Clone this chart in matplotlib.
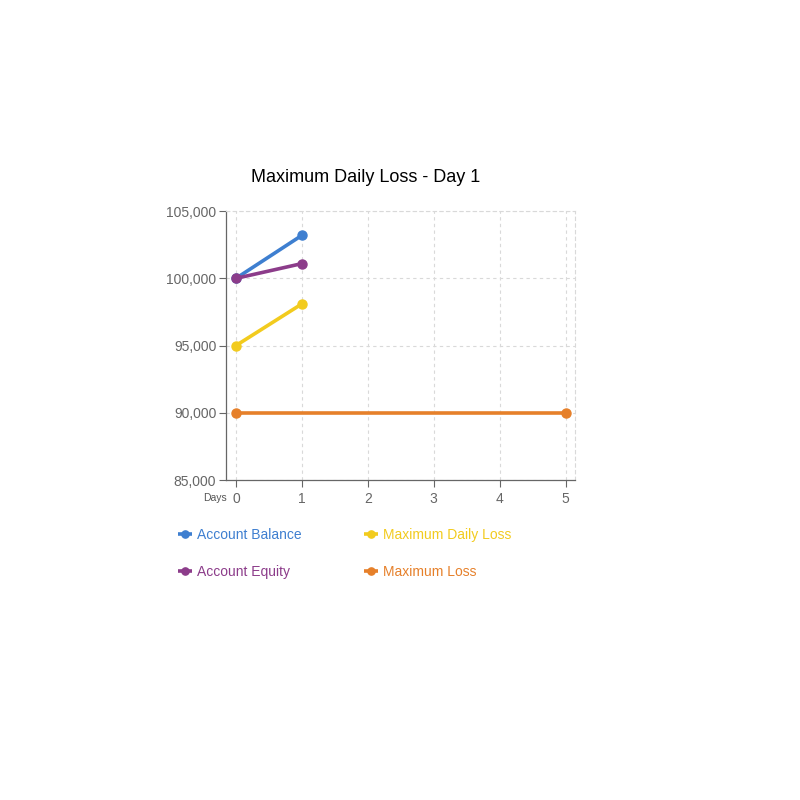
import matplotlib
matplotlib.use("Agg")
import matplotlib.pyplot as plt
from matplotlib.ticker import FuncFormatter

plt.rcParams['font.family'] = ['Liberation Sans', 'DejaVu Sans']

days_balance = [0, 1]
account_balance = [100000, 103200]
days_equity = [0, 1]
account_equity = [100000, 101100]
days_daily = [0, 1]
max_daily_loss = [95000, 98100]
days_maxloss = [0, 5]
max_loss = [90000, 90000]
x_ticks = [0, 1, 2, 3, 4, 5]
y_ticks = [85000, 90000, 95000, 100000, 105000]

colors = {
    'Account Balance': '#3E7FD0',
    'Account Equity': '#8C3C8A',
    'Maximum Daily Loss': '#F2CB1E',
    'Maximum Loss': '#E6802A',
}

fig = plt.figure(figsize=(8, 8), dpi=100)
ax = fig.add_axes([0.2825, 0.4, 0.436, 0.336])

series = [
    ('Account Balance', days_balance, account_balance),
    ('Account Equity', days_equity, account_equity),
    ('Maximum Daily Loss', days_daily, max_daily_loss),
    ('Maximum Loss', days_maxloss, max_loss),
]
handles = []
for name, xs, ys in series:
    h, = ax.plot(xs, ys, color=colors[name], lw=2.6, marker='o', ms=6.5,
                 label=name, zorder=3, solid_capstyle='butt')
    handles.append(h)

ax.set_xlim(-0.15, 5.14)
ax.set_ylim(85000, 105000)
ax.set_xticks(x_ticks)
ax.set_yticks(y_ticks)
ax.yaxis.set_major_formatter(FuncFormatter(lambda v, p: f"{int(v):,}"))
ax.grid(True, color='#d9d9d9', linestyle=(0, (3, 3)), linewidth=0.8, zorder=0)
ax.tick_params(axis='both', colors='#666666', labelsize=10, length=5, width=0.8)
ax.tick_params(axis='y', pad=2)
ax.tick_params(axis='x', pad=3.5)
for s in ['top', 'right']:
    ax.spines[s].set_color('#d9d9d9')
    ax.spines[s].set_linestyle((0, (3, 3)))
    ax.spines[s].set_linewidth(0.8)
for s in ['left', 'bottom']:
    ax.spines[s].set_color('#666666')
    ax.spines[s].set_linewidth(0.9)

fig.text(0.4575, 0.778, 'Maximum Daily Loss - Day 1', ha='center', va='center',
         fontsize=13, color='black')
fig.text(0.283, 0.378, 'Days', ha='right', va='center', fontsize=7.5, color='#555555')

leg = fig.legend(handles=handles, loc='upper left', bbox_to_anchor=(0.207, 0.3555),
                 ncol=2, frameon=False, labelcolor='linecolor', fontsize=10,
                 handlelength=1.0, handletextpad=0.35, columnspacing=4.5,
                 labelspacing=1.65, markerscale=0.8)

fig.savefig('out.png', dpi=100)
